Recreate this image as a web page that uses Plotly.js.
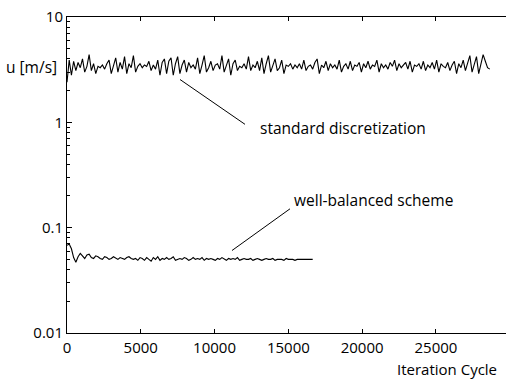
<!DOCTYPE html>
<html>
<head>
<meta charset="utf-8">
<script src="https://cdn.plot.ly/plotly-3.0.1.min.js"></script>
<style>html,body{margin:0;padding:0;background:#fff;}#chart{width:507px;height:379px;}</style>
</head>
<body>
<div id="chart"></div>
<script>
// Iteration step between samples
const stepStd = 150;
const stepWB = 150;

// u [m/s], standard discretization
const standardU = [
  2.4, 3.9, 2.8, 3.8, 3.1, 3.7, 3.3, 4.0, 3.0, 3.4, 4.4, 3.1,
  3.6, 2.9, 3.4, 3.3, 3.5, 3.2, 3.6, 3.9, 2.9, 3.5, 4.1, 3.0,
  3.7, 3.2, 4.2, 2.9, 3.6, 3.3, 4.3, 3.0, 3.4, 3.6, 3.3, 3.5,
  3.4, 3.8, 3.1, 3.5, 3.2, 3.9, 2.8, 3.7, 4.0, 2.9, 3.8, 4.1,
  2.8, 3.6, 4.2, 2.9, 3.5, 3.9, 3.0, 3.7, 3.3, 3.5, 3.2, 4.1,
  2.9, 3.5, 4.3, 3.0, 3.3, 3.8, 3.1, 3.5, 3.6, 3.2, 4.3, 3.0,
  3.4, 4.0, 2.8, 3.6, 3.9, 3.1, 3.4, 3.3, 3.6, 3.2, 4.2, 3.1,
  3.5, 3.3, 3.8, 3.1, 4.1, 2.9, 3.6, 4.3, 3.0, 3.5, 4.0, 3.1,
  3.3, 3.9, 2.9, 3.5, 3.4, 3.6, 3.2, 3.5, 3.3, 3.6, 3.2, 3.9,
  3.1, 3.4, 3.5, 3.2, 3.7, 4.0, 2.9, 3.5, 3.3, 3.8, 3.1, 3.6,
  3.3, 3.5, 3.2, 3.9, 3.0, 3.4, 3.6, 3.2, 3.8, 3.1, 3.5, 3.4,
  3.7, 3.0, 3.6, 3.3, 3.8, 3.2, 3.5, 3.4, 3.9, 3.0, 3.6, 3.3,
  3.5, 3.2, 3.7, 3.4, 3.9, 3.1, 3.6, 3.3, 3.5, 3.7, 3.2, 3.8,
  3.0, 3.5, 3.4, 3.6, 3.2, 3.8, 3.1, 3.5, 3.3, 3.7, 3.2, 3.9,
  3.0, 3.6, 3.4, 3.3, 3.7, 3.1, 3.5, 3.8, 2.9, 3.6, 3.3, 3.9,
  3.1, 3.6, 4.3, 3.0, 3.5, 4.2, 2.9, 3.6, 4.4, 3.8, 3.3, 3.2
];

// u [m/s], well-balanced scheme
const wellBalancedU = [
  0.068, 0.070, 0.063, 0.052, 0.047, 0.053, 0.057, 0.054, 0.051, 0.055, 0.056, 0.052,
  0.051, 0.054, 0.053, 0.051, 0.050, 0.053, 0.052, 0.050, 0.051, 0.053, 0.051, 0.050,
  0.052, 0.051, 0.050, 0.052, 0.053, 0.051, 0.050, 0.051, 0.049, 0.052, 0.051, 0.049,
  0.052, 0.050, 0.048, 0.052, 0.050, 0.053, 0.049, 0.051, 0.050, 0.052, 0.050, 0.051,
  0.053, 0.049, 0.050, 0.051, 0.050, 0.052, 0.051, 0.049, 0.050, 0.052, 0.050, 0.051,
  0.050, 0.052, 0.049, 0.051, 0.050, 0.051, 0.050, 0.049, 0.051, 0.050, 0.052, 0.050,
  0.049, 0.051, 0.050, 0.051, 0.050, 0.052, 0.049, 0.050, 0.051, 0.050, 0.050, 0.051,
  0.049, 0.050, 0.051, 0.050, 0.049, 0.050, 0.051, 0.050, 0.050, 0.051, 0.049, 0.050,
  0.050, 0.050, 0.049, 0.051, 0.050, 0.050, 0.050, 0.049, 0.050, 0.050, 0.050, 0.050,
  0.050, 0.050, 0.050, 0.050
];

const xTickVals = [0, 5000, 10000, 15000, 20000, 25000];
const xTickText = ['0', '5000', '10000', '15000', '20000', '25000'];
const yTickVals = [0.01, 0.1, 1, 10];
const yTickText = ['0.01', '0.1', '1', '10'];

const labelStd = 'standard discretization';
const labelWB = 'well-balanced scheme';
const yLabel = 'u [m/s]';
const xLabel = 'Iteration Cycle';

const xStd = standardU.map((_, i) => i * stepStd);
const xWB = wellBalancedU.map((_, i) => i * stepWB);

const FONT = '"Open Sans", Lato, sans-serif';
const FS = 15.5;

const traces = [
  {x: xStd, y: standardU, type: 'scatter', mode: 'lines', line: {color: '#000', width: 1.1}, hoverinfo: 'skip'},
  {x: xWB, y: wellBalancedU, type: 'scatter', mode: 'lines', line: {color: '#000', width: 1.1}, hoverinfo: 'skip'}
];

const layout = {
  width: 507, height: 379,
  margin: {l: 67, r: 1, t: 17, b: 46},
  paper_bgcolor: '#fff', plot_bgcolor: '#fff',
  showlegend: false,
  font: {family: FONT, size: FS, color: '#000'},
  xaxis: {
    range: [0, 29750], showgrid: false, zeroline: false,
    showline: true, linecolor: '#000', linewidth: 1, mirror: 'ticks',
    ticks: 'inside', ticklen: 4, tickcolor: '#000', tickwidth: 1,
    tickmode: 'array', tickvals: xTickVals, ticktext: xTickText,
    ticklabelstandoff: 1,
    tickfont: {family: FONT, size: 15}
  },
  yaxis: {
    type: 'log', range: [-2, 1], showgrid: false, zeroline: false,
    showline: true, linecolor: '#000', linewidth: 1, mirror: false,
    ticks: 'inside', ticklen: 5, tickcolor: '#000', tickwidth: 1,
    tickmode: 'array', tickvals: yTickVals, ticktext: yTickText,
    tickfont: {family: FONT, size: 15},
    minor: {ticks: 'inside', ticklen: 3, tickcolor: '#000', dtick: 'D1', showgrid: false}
  },
  shapes: [
    {type: 'line', xref: 'x', yref: 'y', x0: 7658, y0: 2.55, x1: 12063, y1: 0.957, line: {color: '#000', width: 1}},
    {type: 'line', xref: 'x', yref: 'y', x0: 11182, y0: 0.0607, x1: 15112, y1: 0.151, line: {color: '#000', width: 1}}
  ],
  annotations: [
    {text: labelStd, xref: 'paper', yref: 'paper', x: (258 - 67) / 439, y: (333 - 128) / 316, xanchor: 'left', yanchor: 'middle', showarrow: false, font: {family: FONT, size: FS}},
    {text: labelWB, xref: 'paper', yref: 'paper', x: (292 - 67) / 439, y: (333 - 200) / 316, xanchor: 'left', yanchor: 'middle', showarrow: false, font: {family: FONT, size: FS}},
    {text: yLabel, xref: 'paper', yref: 'paper', x: (59 - 67) / 439, y: (333 - 67) / 316, xanchor: 'right', yanchor: 'middle', showarrow: false, font: {family: FONT, size: FS}},
    {text: xLabel, xref: 'paper', yref: 'paper', x: (498 - 67) / 439, y: (333 - 369) / 316, xanchor: 'right', yanchor: 'middle', showarrow: false, borderpad: 0, font: {family: FONT, size: 15}}
  ]
};

Plotly.newPlot('chart', traces, layout, {staticPlot: true, displayModeBar: false});
</script>
</body>
</html>
